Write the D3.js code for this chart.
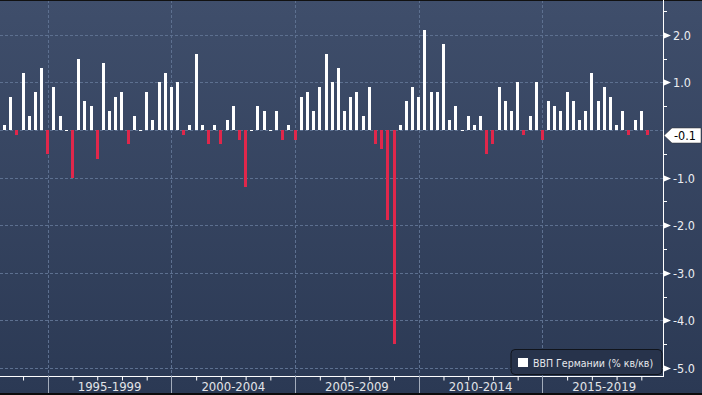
<!DOCTYPE html>
<html>
<head>
<meta charset="utf-8">
<script src="https://cdn.jsdelivr.net/npm/d3@7"></script>
<style>
    html, body { margin: 0; padding: 0; background: #2c3a55; }
    svg { display: block; font-family: "DejaVu Sans Condensed", "DejaVu Sans", sans-serif; font-stretch: condensed; }
</style>
</head>
<body>
<svg id="chart"></svg>
<script>
// German GDP, % q/q, quarterly from 1993 Q2 to 2019 Q2
const firstYear = 1993;
const firstQuarter = 2;
const gdpValues = [
    0.1, 0.7, -0.1, 1.2, 0.3, 0.8, 1.3, -0.5, 0.9, 0.3,
    0.0, -1.0, 1.5, 0.6, 0.5, -0.6, 1.4, 0.4, 0.7, 0.8,
    -0.3, 0.3, 0.0, 0.8, 0.2, 1.0, 1.2, 0.9, 1.0, -0.1,
    0.1, 1.6, 0.1, -0.3, 0.1, -0.3, 0.2, 0.5, -0.2, -1.2,
    0.0, 0.5, 0.4, 0.0, 0.4, -0.2, 0.1, -0.2, 0.7, 0.8,
    0.4, 0.9, 1.6, 1.0, 1.3, 0.4, 0.7, 0.8, 0.3, 0.9,
    -0.3, -0.4, -1.9, -4.5, 0.1, 0.6, 0.9, 0.7, 2.1, 0.8,
    0.8, 1.8, 0.2, 0.5, 0.0, 0.3, 0.1, 0.3, -0.5, -0.3,
    0.9, 0.6, 0.4, 1.0, -0.1, 0.3, 1.0, -0.2, 0.6, 0.5,
    0.4, 0.8, 0.6, 0.2, 0.4, 1.2, 0.6, 0.9, 0.7, 0.1,
    0.4, -0.1, 0.2, 0.4, -0.1
];
const periodStarts = [1995, 2000, 2005, 2010, 2015];
const periodLabels = ["1995-1999", "2000-2004", "2005-2009", "2010-2014", "2015-2019"];
const yTicks = [2, 1, -1, -2, -3, -4, -5];
const yMinorTicks = [2.5, 1.5, 0.5, -0.5, -1.5, -2.5, -3.5, -4.5];
const legendLabel = "ВВП Германии (% кв/кв)";

function drawChart() {
    const width = 702;
    const height = 395;
    const plotRight = 663;
    const plotBottom = 376;

    const data = gdpValues.map((v, i) => ({ index: i, value: v }));
    // quarter index of Q1 for a given year
    const q1Index = year => (year - firstYear) * 4 + (1 - firstQuarter);

    const svg = d3.select("#chart")
        .attr("width", width)
        .attr("height", height);

    // Background gradient
    const grad = svg.append("defs").append("linearGradient")
        .attr("id", "bg")
        .attr("x1", 0).attr("y1", 0).attr("x2", 0).attr("y2", 1);
    grad.append("stop").attr("offset", "0%").attr("stop-color", "#3f4e6b");
    grad.append("stop").attr("offset", "100%").attr("stop-color", "#2b3954");

    svg.append("rect")
        .attr("width", width)
        .attr("height", height)
        .attr("fill", "url(#bg)");

    const xScale = d3.scaleLinear()
        .domain([0, gdpValues.length - 1])
        .range([4.5, 647.5]);

    const yScale = d3.scaleLinear()
        .domain([-5, 2])
        .range([368, 34.8]);

    // Horizontal gridlines
    svg.append("g")
        .selectAll("line")
        .data(d3.range(-5, 3))
        .enter()
        .append("line")
        .attr("x1", 0)
        .attr("x2", plotRight)
        .attr("y1", d => Math.round(yScale(d)) + 0.5)
        .attr("y2", d => Math.round(yScale(d)) + 0.5)
        .attr("stroke", "#5d7090")
        .attr("stroke-dasharray", "3,2");

    // Vertical gridlines at 5-year boundaries
    svg.append("g")
        .selectAll("line")
        .data(periodStarts)
        .enter()
        .append("line")
        .attr("x1", d => Math.round(xScale(q1Index(d))) + 0.5)
        .attr("x2", d => Math.round(xScale(q1Index(d))) + 0.5)
        .attr("y1", 0)
        .attr("y2", plotBottom)
        .attr("stroke", "#5d7090")
        .attr("stroke-dasharray", "3,2");

    // Bars
    svg.selectAll(".bar")
        .data(data)
        .enter()
        .append("rect")
        .attr("class", "bar")
        .attr("x", d => Math.round(xScale(d.index) - 1.5))
        .attr("width", 3)
        .attr("y", d => d.value >= 0 ? Math.round(yScale(d.value)) : Math.round(yScale(0)))
        .attr("height", d => Math.max(1, Math.abs(Math.round(yScale(d.value)) - Math.round(yScale(0)))))
        .attr("fill", d => d.value >= 0 ? "#ffffff" : "#e0274b");

    // Top and bottom borders
    svg.append("rect").attr("x", 0).attr("y", 0).attr("width", width).attr("height", 1).attr("fill", "#111");
    svg.append("rect").attr("x", 0).attr("y", 393).attr("width", width).attr("height", 2).attr("fill", "#0c0c0c");

    // X axis with yearly minor ticks
    const years = d3.range(firstYear + 1, 2020).filter(y => y % 5 !== 0);
    svg.append("g")
        .attr("class", "x-axis")
        .attr("transform", `translate(0, ${plotBottom + 0.5})`)
        .call(d3.axisBottom(xScale)
            .tickValues(years.map(q1Index))
            .tickSize(4)
            .tickSizeOuter(0)
            .tickFormat(""))
        .call(g => g.select(".domain").attr("stroke", "#ffffff").attr("d", `M0,0H${plotRight}`))
        .call(g => g.selectAll(".tick line").attr("stroke", "#ffffff"));

    // Long ticks at period boundaries
    svg.append("g")
        .selectAll("line")
        .data(periodStarts)
        .enter()
        .append("line")
        .attr("x1", d => Math.round(xScale(q1Index(d))) + 0.5)
        .attr("x2", d => Math.round(xScale(q1Index(d))) + 0.5)
        .attr("y1", plotBottom)
        .attr("y2", 393)
        .attr("stroke", "#a3acbb");

    // Period labels centred between boundaries
    svg.append("g")
        .selectAll("text")
        .data(periodStarts)
        .enter()
        .append("text")
        .attr("x", (d, i) => (xScale(q1Index(d)) + xScale(q1Index(d + 5))) / 2)
        .attr("y", 391)
        .attr("text-anchor", "middle")
        .style("font-size", "13px")
        .style("fill", "#e2e4e8")
        .text((d, i) => periodLabels[i]);

    // Right axis
    svg.append("line")
        .attr("x1", plotRight + 0.5)
        .attr("x2", plotRight + 0.5)
        .attr("y1", 0)
        .attr("y2", plotBottom + 1)
        .attr("stroke", "#ffffff");

    svg.append("g")
        .selectAll("line")
        .data(yMinorTicks)
        .enter()
        .append("line")
        .attr("x1", plotRight)
        .attr("x2", plotRight + 4)
        .attr("y1", d => Math.round(yScale(d)) + 0.5)
        .attr("y2", d => Math.round(yScale(d)) + 0.5)
        .attr("stroke", "#ffffff");

    const yTick = svg.append("g")
        .selectAll("g")
        .data(yTicks)
        .enter()
        .append("g")
        .attr("transform", d => `translate(${plotRight + 1}, ${Math.round(yScale(d)) + 0.5})`);

    yTick.append("path")
        .attr("d", "M0,-3L7,0L0,3Z")
        .attr("fill", "#ffffff");

    yTick.append("text")
        .attr("x", 9)
        .attr("dy", "0.36em")
        .style("font-size", "12.5px")
        .style("fill", "#eceef2")
        .text(d => d.toFixed(1));

    // Last value marker
    const last = gdpValues[gdpValues.length - 1];
    const ly = Math.round(yScale(last)) + 0.5;
    const marker = svg.append("g")
        .attr("transform", `translate(${plotRight + 1}, ${ly})`);
    marker.append("path")
        .attr("d", "M0,0L8,-7.5H37V7.5H8Z")
        .attr("fill", "#ffffff")
        .attr("stroke", "#333")
        .attr("stroke-width", 0.5);
    marker.append("text")
        .attr("x", 10)
        .attr("dy", "0.36em")
        .style("font-size", "12.5px")
        .style("fill", "#000")
        .text(last.toFixed(1));

    // Legend
    const legend = svg.append("g")
        .attr("transform", "translate(511, 349.5)");
    legend.append("rect")
        .attr("width", 151)
        .attr("height", 25)
        .attr("rx", 4)
        .attr("fill", "#27334b")
        .attr("stroke", "#10141c");
    legend.append("rect")
        .attr("x", 7)
        .attr("y", 8.5)
        .attr("width", 10)
        .attr("height", 9)
        .attr("fill", "#ffffff");
    legend.append("text")
        .attr("x", 22)
        .attr("y", 17)
        .style("font-size", "10.5px")
        .style("fill", "#e6e8ec")
        .text(legendLabel);
}

drawChart();
</script>
</body>
</html>
